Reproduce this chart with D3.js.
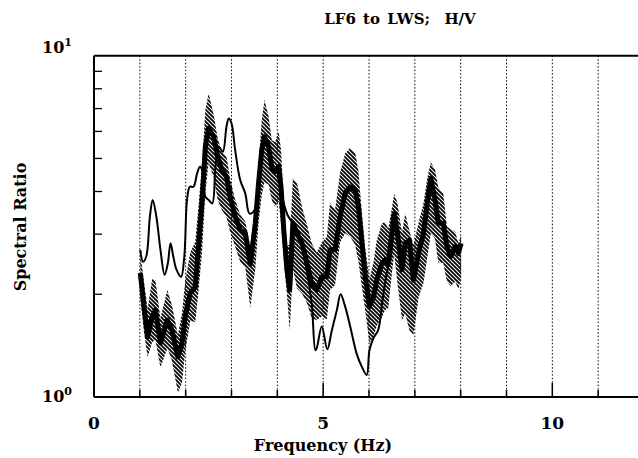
<!DOCTYPE html>
<html>
<head>
<meta charset="utf-8">
<script src="https://cdn.jsdelivr.net/npm/d3@7"></script>
<style>
  html, body { margin: 0; padding: 0; background: #fff; }
  svg { display: block; }
  text { font-family: "DejaVu Serif", "Liberation Serif", serif; font-weight: bold; fill: #000; }
</style>
</head>
<body>
<svg width="638" height="458"></svg>
<script>
// mean H/V ratio (thick line) and its +/- band (hatched)
const freq = [1.01,1.09,1.17,1.27,1.34,1.45,1.60,1.70,1.83,1.92,1.99,2.10,2.21,2.28,2.36,2.43,2.50,2.61,2.70,2.79,
  2.89,2.97,3.08,3.19,3.30,3.41,3.52,3.59,3.66,3.72,3.81,3.88,3.95,4.03,4.08,4.14,4.21,4.27,4.34,4.43,
  4.54,4.65,4.75,4.86,4.97,5.08,5.15,5.26,5.37,5.48,5.59,5.70,5.77,5.84,5.92,6.01,6.10,6.17,6.28,6.35,
  6.42,6.50,6.55,6.62,6.72,6.79,6.88,6.97,7.08,7.19,7.27,7.35,7.44,7.51,7.62,7.70,7.78,7.88,7.95,8.01];
const meanRatio = [2.31,1.84,1.50,1.72,1.80,1.44,1.68,1.57,1.31,1.44,1.72,2.02,2.10,2.76,3.78,5.41,6.13,5.79,5.06,4.63,
  4.42,3.86,3.38,3.09,3.02,2.45,3.23,4.23,5.29,5.79,5.41,4.68,4.57,4.73,4.13,3.09,2.36,2.06,3.23,3.02,
  2.82,2.46,2.15,2.06,2.25,2.25,2.70,2.70,3.38,3.95,4.13,4.04,3.61,2.88,2.25,1.84,1.97,2.20,2.46,2.52,
  2.46,3.02,3.45,3.02,2.36,2.82,2.88,2.20,2.64,3.02,3.69,4.37,3.78,3.23,3.23,2.76,2.58,2.76,2.64,2.82];
const upperRatio = [2.64,2.18,1.81,2.22,2.20,1.70,2.06,1.86,1.52,1.76,2.18,2.65,2.85,3.62,4.88,6.95,7.76,6.72,5.71,5.23,
  5.06,4.36,3.79,3.42,3.27,2.77,3.65,4.84,6.47,7.43,6.62,5.65,5.59,5.99,5.30,3.78,2.79,2.79,4.38,4.23,
  3.60,3.18,2.82,2.65,2.83,2.95,3.71,3.54,4.55,5.17,5.37,5.19,4.57,3.53,2.72,2.21,2.49,2.88,3.22,3.26,
  3.11,3.58,3.95,3.70,3.03,3.45,3.08,2.79,3.23,3.70,4.37,4.87,4.63,4.12,3.95,3.16,3.10,3.05,2.82,2.98];
const lowerRatio = [1.95,1.55,1.31,1.45,1.47,1.22,1.39,1.28,1.03,1.10,1.36,1.67,1.66,2.04,2.70,3.99,4.84,4.42,3.78,3.53,
  3.37,3.05,2.76,2.49,2.40,1.83,2.38,3.23,3.90,4.27,4.19,3.77,3.61,3.74,3.24,2.52,1.99,1.57,2.38,2.08,
  2.01,1.88,1.70,1.68,1.72,1.69,2.06,2.13,2.84,3.02,2.95,2.79,2.49,2.13,1.78,1.44,1.50,1.62,1.71,1.80,
  1.82,2.31,2.63,2.16,1.68,1.76,1.57,1.52,1.95,2.16,2.55,3.02,2.91,2.48,2.47,2.18,2.11,2.18,2.07,2.23];

// single-record H/V ratio (thin line)
const thinFreq = [1.01,1.07,1.14,1.22,1.28,1.36,1.45,1.54,1.61,1.67,1.73,1.80,1.90,1.97,2.03,2.09,2.17,2.25,2.31,2.36,
  2.43,2.50,2.58,2.65,2.72,2.81,2.89,2.94,3.00,3.08,3.19,3.30,3.39,3.47,3.54,3.59,3.66,3.71,3.81,3.88,
  3.95,4.03,4.08,4.22,4.32,4.46,4.64,4.75,4.83,4.86,4.97,5.09,5.19,5.30,5.38,5.48,5.59,5.73,5.84,5.95,
  6.01,6.10,6.20,6.29,6.39,6.48,6.55,6.62,6.71,6.79,6.88,6.97,7.08,7.19,7.27,7.35,7.44,7.51,7.62,7.70,
  7.78,7.88,7.95,8.01];
const thinRatio = [2.70,2.49,2.58,3.38,3.78,3.38,2.70,2.28,2.46,2.82,2.58,2.36,2.25,2.58,3.78,4.13,4.13,4.52,4.73,4.63,
  3.86,3.78,3.69,4.73,5.41,5.23,6.19,6.55,6.34,5.29,4.32,3.95,3.45,3.48,3.65,4.18,5.29,5.74,5.41,4.68,
  4.57,4.70,4.04,3.42,3.26,3.02,2.36,1.88,1.37,1.39,1.61,1.38,1.57,1.80,2.00,1.84,1.61,1.34,1.23,1.16,
  1.37,1.49,1.57,1.90,2.32,2.61,3.19,2.88,2.49,2.79,2.79,2.28,2.61,3.04,3.65,4.27,3.73,3.26,3.19,2.73,
  2.55,2.70,2.61,2.79];

const xTicks = d3.range(0, 13);
const xTickLabels = [0, 5, 10];
const yMinorTicks = [2, 3, 4, 5, 6, 7, 8, 9];
const yTickLabels = [{v: 1, exp: "0"}, {v: 10, exp: "1"}];

const svg = d3.select("svg");
const plotLeft = 94, plotRight = 644, plotTop = 55.7, plotBottom = 397;

const x = d3.scaleLinear().domain([0, 12]).range([plotLeft, plotRight]);
const y = d3.scaleLog().domain([1, 10]).range([plotBottom, plotTop]);

const defs = svg.append("defs");
defs.append("clipPath").attr("id", "plotclip")
  .append("rect").attr("x", plotLeft).attr("y", plotTop)
  .attr("width", plotRight - plotLeft).attr("height", plotBottom - plotTop);

// hatch for the +/- band
const pat = defs.append("pattern")
  .attr("id", "hatch")
  .attr("patternUnits", "userSpaceOnUse")
  .attr("width", 4).attr("height", 4);
pat.append("path")
  .attr("d", "M-1,3 l2,2 M0,0 l4,4 M3,-1 l2,2")
  .attr("stroke", "#000")
  .attr("stroke-width", 1.8);

// dotted vertical grid
svg.append("g")
  .selectAll("line")
  .data(xTicks.filter(d => d > 0))
  .join("line")
  .attr("x1", d => x(d)).attr("x2", d => x(d))
  .attr("y1", plotTop).attr("y2", plotBottom)
  .attr("stroke", "#000")
  .attr("stroke-width", 1)
  .attr("stroke-dasharray", "1.5,2");

const plot = svg.append("g").attr("clip-path", "url(#plotclip)");

const band = freq.map((f, i) => ({f: f, hi: upperRatio[i], lo: lowerRatio[i]}));
plot.append("path")
  .datum(band)
  .attr("fill", "url(#hatch)")
  .attr("d", d3.area().x(d => x(d.f)).y0(d => y(d.lo)).y1(d => y(d.hi)));

plot.append("path")
  .datum(thinFreq.map((f, i) => [f, thinRatio[i]]))
  .attr("fill", "none")
  .attr("stroke", "#000")
  .attr("stroke-width", 2)
  .attr("stroke-linejoin", "round")
  .attr("d", d3.line().x(d => x(d[0])).y(d => y(d[1])).curve(d3.curveCatmullRom));

plot.append("path")
  .datum(freq.map((f, i) => [f, meanRatio[i]]))
  .attr("fill", "none")
  .attr("stroke", "#000")
  .attr("stroke-width", 5)
  .attr("stroke-linejoin", "round")
  .attr("d", d3.line().x(d => x(d[0])).y(d => y(d[1])));

// axes frame
const axisG = svg.append("g").attr("stroke", "#000").attr("stroke-width", 2);
axisG.append("line").attr("x1", plotLeft).attr("x2", 638).attr("y1", plotTop).attr("y2", plotTop);
axisG.append("line").attr("x1", plotLeft).attr("x2", 638).attr("y1", plotBottom).attr("y2", plotBottom);
axisG.append("line").attr("x1", plotLeft).attr("x2", plotLeft).attr("y1", plotTop).attr("y2", plotBottom);

// x ticks (pointing up)
svg.append("g")
  .selectAll("line")
  .data(xTicks.filter(d => d > 0))
  .join("line")
  .attr("x1", d => x(d)).attr("x2", d => x(d))
  .attr("y1", plotBottom)
  .attr("y2", d => plotBottom - (d % 5 === 0 ? 14 : 7))
  .attr("stroke", "#000")
  .attr("stroke-width", 1.5);

// y minor ticks (pointing right)
svg.append("g")
  .selectAll("line")
  .data(yMinorTicks)
  .join("line")
  .attr("x1", plotLeft).attr("x2", plotLeft + 8)
  .attr("y1", d => y(d)).attr("y2", d => y(d))
  .attr("stroke", "#000")
  .attr("stroke-width", 1.3);

// tick labels
svg.append("g")
  .selectAll("text")
  .data(xTickLabels)
  .join("text")
  .attr("x", d => x(d))
  .attr("y", 429)
  .attr("text-anchor", "middle")
  .style("font-size", "17px")
  .text(d => d);

const yl = svg.append("g")
  .selectAll("text")
  .data(yTickLabels)
  .join("text")
  .attr("x", 42)
  .attr("y", d => y(d.v) + (d.v === 1 ? 5 : -3))
  .style("font-size", "16px");
yl.append("tspan").text("10");
yl.append("tspan").attr("dy", -7).style("font-size", "11px").text(d => d.exp);

svg.append("text")
  .attr("x", 323).attr("y", 451)
  .attr("text-anchor", "middle")
  .style("font-size", "16px")
  .text("Frequency (Hz)");

svg.append("text")
  .attr("transform", "translate(26,227) rotate(-90)")
  .attr("text-anchor", "middle")
  .style("font-size", "16px")
  .text("Spectral Ratio");

svg.append("text")
  .attr("x", 400).attr("y", 24)
  .attr("text-anchor", "middle")
  .style("font-size", "15px")
  .style("white-space", "pre")
  .style("word-spacing", "2px")
  .text("LF6 to LWS;  H/V");
</script>
</body>
</html>
